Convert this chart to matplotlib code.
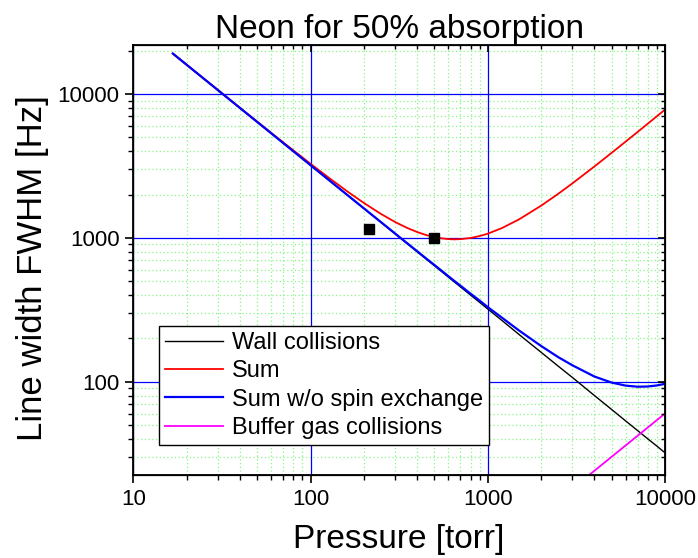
import matplotlib
matplotlib.use("Agg")
import matplotlib.pyplot as plt
from matplotlib.ticker import LogLocator, NullFormatter, FixedLocator, FixedFormatter

plt.rcParams['font.family'] = ['Liberation Sans', 'DejaVu Sans']

# Pressure samples [torr]
pressure = [16.7, 20, 25, 30, 40, 50, 70, 100, 130, 160, 200, 250, 300, 350,
            400, 450, 500, 550, 600, 650, 700, 800, 900, 1000, 1200, 1500,
            2000, 2500, 3000, 4000, 5000, 6000, 7000, 8000, 9000, 10000]

# Line width contributions [Hz]
wall = [19162, 16000, 12800, 10667, 8000, 6400, 4571, 3200, 2462, 2000, 1600,
        1280, 1067, 914, 800, 711, 640, 582, 533, 492, 457, 400, 356, 320, 267,
        213, 160, 128, 107, 80, 64, 53.3, 45.7, 40, 35.6, 32]

total = [19179, 16019, 12822, 10693, 8033, 6440, 4625, 3276, 2560, 2120, 1750,
         1466, 1290, 1175, 1098, 1046, 1014, 993, 981, 977, 981, 999, 1031,
         1070, 1170, 1345, 1676, 2029, 2394, 3144, 3908, 4680, 5456, 6239,
         7022, 7810]

no_spin_exchange = [19167, 16005, 12805, 10672, 8005, 6405, 4576, 3205, 2467,
                    2005, 1606, 1286, 1073, 921, 807, 718, 648, 590, 541, 500,
                    466, 409, 366, 330, 279, 227, 177, 148, 130, 108.5, 98.5,
                    93.8, 92.2, 92.5, 94.1, 96.5]

buffer_pressure = [3000, 4000, 5000, 6000, 7000, 8000, 9000, 10000]
buffer_gas = [18, 24, 30, 36, 42, 48, 54, 60]

# Measured points
meas_pressure = [213, 500]
meas_width = [1160, 1000]

x_ticks = [10, 100, 1000, 10000]
x_tick_labels = ["10", "100", "1000", "10000"]
y_ticks = [100, 1000, 10000]
y_tick_labels = ["100", "1000", "10000"]

fig = plt.figure(figsize=(6.98, 5.58), dpi=100)
ax = fig.add_axes([0.1911, 0.1487, 0.9527 - 0.1911, 0.9199 - 0.1487])
ax.set_xscale('log')
ax.set_yscale('log')
ax.set_xlim(10, 10000)
ax.set_ylim(22.4, 22100)

# grids
ax.set_axisbelow(True)
ax.grid(which='minor', color='#88f588', linestyle=(0, (1, 2)), linewidth=0.9)
ax.grid(which='major', color='#0000ff', linestyle='-', linewidth=0.9)

ax.plot(pressure, wall, color='black', lw=1.0, label='Wall collisions')
ax.plot(pressure, total, color='#ff0000', lw=1.3, label='Sum')
ax.plot(pressure, no_spin_exchange, color='#0000ff', lw=1.6,
        label='Sum w/o spin exchange')
ax.plot(buffer_pressure, buffer_gas, color='#ff00ff', lw=1.3,
        label='Buffer gas collisions')
ax.plot(meas_pressure, meas_width, linestyle='none', marker='s',
        color='black', markersize=6.5)

ax.xaxis.set_major_locator(FixedLocator(x_ticks))
ax.xaxis.set_major_formatter(FixedFormatter(x_tick_labels))
ax.yaxis.set_major_locator(FixedLocator(y_ticks))
ax.yaxis.set_major_formatter(FixedFormatter(y_tick_labels))
ax.xaxis.set_minor_locator(LogLocator(base=10, subs=range(2, 10), numticks=20))
ax.yaxis.set_minor_locator(LogLocator(base=10, subs=range(2, 10), numticks=20))
ax.xaxis.set_minor_formatter(NullFormatter())
ax.yaxis.set_minor_formatter(NullFormatter())

ax.tick_params(which='major', direction='out', length=6, width=1.2,
               labelsize=16, pad=4, top=False, right=False)
ax.tick_params(which='minor', direction='out', length=3.5, width=1.0,
               top=False, right=False)
for s in ax.spines.values():
    s.set_linewidth(1.3)

# inward ticks on the top and right spines
axt = ax.twiny()
axt.set_xscale('log')
axt.set_xlim(ax.get_xlim())
axt.xaxis.set_major_locator(FixedLocator(x_ticks))
axt.xaxis.set_minor_locator(LogLocator(base=10, subs=range(2, 10), numticks=20))
axt.xaxis.set_major_formatter(NullFormatter())
axt.xaxis.set_minor_formatter(NullFormatter())
axt.tick_params(which='major', direction='in', length=5, width=1.2)
axt.tick_params(which='minor', direction='in', length=3, width=1.0)

axr = ax.twinx()
axr.set_yscale('log')
axr.set_ylim(ax.get_ylim())
axr.yaxis.set_major_locator(FixedLocator(y_ticks))
axr.yaxis.set_minor_locator(LogLocator(base=10, subs=range(2, 10), numticks=20))
axr.yaxis.set_major_formatter(NullFormatter())
axr.yaxis.set_minor_formatter(NullFormatter())
axr.tick_params(which='major', direction='in', length=5, width=1.2)
axr.tick_params(which='minor', direction='in', length=3, width=1.0)

ax.set_xlabel('Pressure [torr]', fontsize=24, labelpad=10)
ax.set_ylabel('Line width FWHM [Hz]', fontsize=25, labelpad=6)
ax.yaxis.label.set_y(0.48)
ax.set_title('Neon for 50% absorption', fontsize=24, pad=3)

leg = ax.legend(loc='upper left', bbox_to_anchor=(159 / 698, 1 - 326 / 558),
                bbox_transform=fig.transFigure, fontsize=17, frameon=True,
                fancybox=False, framealpha=1, edgecolor='black',
                borderaxespad=0, borderpad=0.25, labelspacing=0.27,
                handlelength=2.45, handletextpad=0.38)
leg.get_frame().set_linewidth(1.0)
leg.set_zorder(10)

fig.savefig('out.png', dpi=100)
